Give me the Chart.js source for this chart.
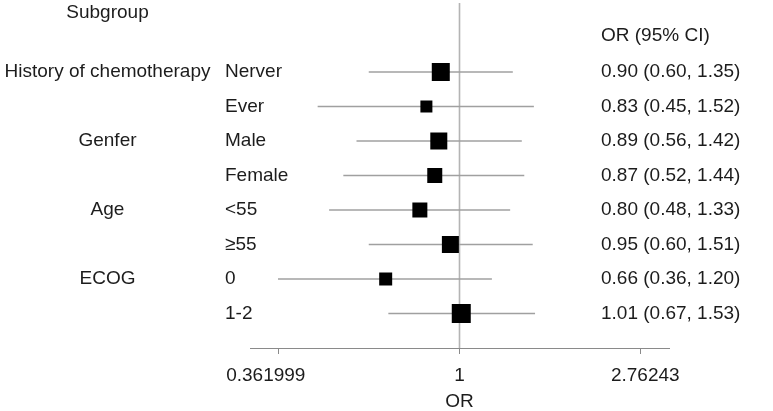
<!DOCTYPE html>
<html>
<head>
<meta charset="utf-8">
<script src="https://cdn.jsdelivr.net/npm/chart.js@4/dist/chart.umd.min.js"></script>
<style>
  html, body { margin: 0; padding: 0; background: #fff; }
  #wrap { width: 773px; height: 411px; position: relative; }
</style>
</head>
<body>
<div id="wrap"><canvas id="c" width="773" height="411"></canvas></div>
<script>
// ---- Data ----
const groups = ["History of chemotherapy", "Genfer", "Age", "ECOG"];
const groupRows = [1, 3, 5, 7];
const subgroups = ["Nerver", "Ever", "Male", "Female", "<55", "\u226555", "0", "1-2"];
const orValues = [0.90, 0.83, 0.89, 0.87, 0.80, 0.95, 0.66, 1.01];
const lowerCI  = [0.60, 0.45, 0.56, 0.52, 0.48, 0.60, 0.36, 0.67];
const upperCI  = [1.35, 1.52, 1.42, 1.44, 1.33, 1.51, 1.20, 1.53];
const weights  = [18, 12, 17, 15, 15, 17, 13, 19]; // square side (visual weight)
const tickValues = [0.361999, 1, 2.76243];
const tickLabels = ["0.361999", "1", "2.76243"];
const xMin = 0.3075, xMax = 3.252;
const xTitle = "OR";
const headerLeft = "Subgroup";
const headerRight = "OR (95% CI)";

const FONT = "'Liberation Sans', Arial, Helvetica, sans-serif";
const TXT = "#1c1c1c";
const rows = subgroups.map((_, i) => i + 1);

const ciDatasets = subgroups.map((s, i) => ({
  type: 'scatter',
  label: 'ci-' + s,
  data: [{x: lowerCI[i], y: rows[i]}, {x: upperCI[i], y: rows[i]}],
  showLine: true,
  borderColor: '#a0a0a0',
  borderWidth: 1.5,
  pointRadius: 0,
  order: 2
}));

const refLine = {
  type: 'scatter',
  label: 'ref',
  data: [{x: 1, y: -1}, {x: 1, y: 9}],
  showLine: true,
  borderColor: '#b4b4b4',
  borderWidth: 1.6,
  pointRadius: 0,
  order: 3
};

const squares = {
  type: 'scatter',
  label: 'OR',
  data: orValues.map((v, i) => ({x: v, y: rows[i]})),
  pointStyle: 'rect',
  pointRadius: weights.map(w => w / Math.SQRT2),
  pointHoverRadius: weights.map(w => w / Math.SQRT2),
  backgroundColor: '#000',
  borderColor: '#000',
  borderWidth: 0,
  order: 1
};

const textPlugin = {
  id: 'forestText',
  afterDraw(chart) {
    const ctx = chart.ctx;
    const ys = chart.scales.y;
    ctx.save();
    ctx.font = "19px " + FONT;
    ctx.fillStyle = TXT;
    ctx.textBaseline = 'middle';
    ctx.textAlign = 'center';
    ctx.fillText(headerLeft, 107.5, ys.getPixelForValue(-0.73));
    groups.forEach((g, i) => {
      ctx.fillText(g, 107.5, ys.getPixelForValue(groupRows[i]));
    });
    ctx.textAlign = 'left';
    ctx.fillText(headerRight, 601, ys.getPixelForValue(-0.06));
    subgroups.forEach((s, i) => {
      ctx.fillText(s, 225, ys.getPixelForValue(rows[i]));
      const t = orValues[i].toFixed(2) + " (" + lowerCI[i].toFixed(2) + ", " + upperCI[i].toFixed(2) + ")";
      ctx.fillText(t, 601, ys.getPixelForValue(rows[i]));
    });
    ctx.restore();
  }
};

// small per-label horizontal nudges, as in the reference (spaces)
const labelPad = [["", "     "], ["", ""], ["  ", ""]];

new Chart(document.getElementById('c'), {
  data: { datasets: [refLine, ...ciDatasets, squares] },
  options: {
    responsive: false,
    animation: false,
    events: [],
    layout: { autoPadding: false, padding: { left: 250, right: 104, top: 3, bottom: 0 } },
    plugins: { legend: { display: false }, tooltip: { enabled: false } },
    scales: {
      x: {
        type: 'logarithmic',
        bounds: 'data',
        min: xMin,
        max: xMax,
        afterBuildTicks(scale) {
          scale.ticks = tickValues.map(v => ({value: v}));
          scale.min = xMin; scale.max = xMax;
        },
        afterFit(scale) { scale.height = 63; },
        ticks: {
          callback(value) {
            const i = tickValues.indexOf(value);
            return i >= 0 ? labelPad[i][0] + tickLabels[i] + labelPad[i][1] : '';
          },
          font: { family: FONT, size: 19 },
          color: TXT,
          padding: 10,
          maxRotation: 0,
          autoSkip: false
        },
        grid: { drawOnChartArea: false, drawTicks: true, tickLength: 6, color: '#8a8a8a', lineWidth: 1 },
        border: { display: true, color: '#8a8a8a', width: 1 },
        title: { display: true, text: xTitle, font: { family: FONT, size: 19, lineHeight: 1 }, color: TXT, padding: { top: 4, bottom: 0 } }
      },
      y: {
        type: 'linear',
        display: false,
        reverse: true,
        min: -1,
        max: 9,
        ticks: { display: false }
      }
    }
  },
  plugins: [textPlugin]
});
</script>
</body>
</html>
